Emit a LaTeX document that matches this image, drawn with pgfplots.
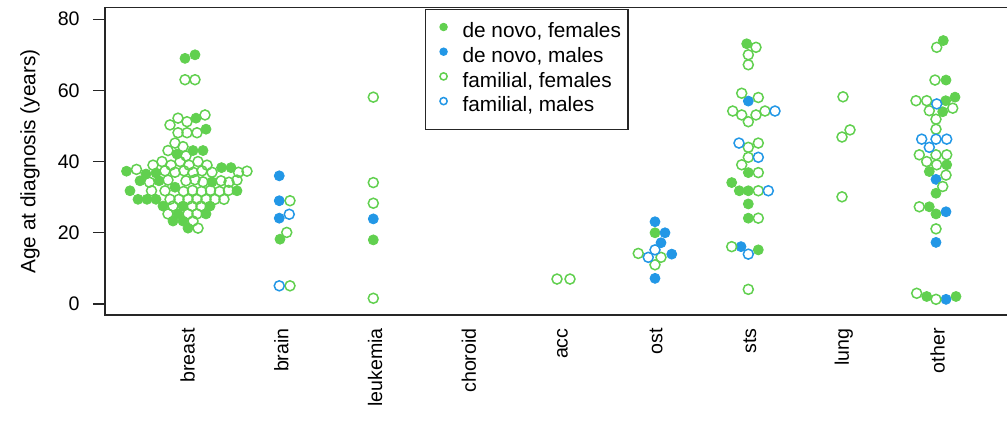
\documentclass[border=0pt]{standalone}
\usepackage{fontspec}
\setmainfont{Liberation Sans}
\usepackage{pgfplots}
\usepackage{pgfplotstable}
\pgfplotsset{compat=1.18}
\definecolor{rgreen}{HTML}{61D04F}
\definecolor{rblue}{HTML}{2297E6}

% c = category index, d = horizontal swarm offset (reference pixels), y = age
\pgfplotstableread{
c d y
1 -2.5 69.0
1 7.5 70.0
1 8.5 52.2
1 18.5 49.1
1 5.5 43.1
1 15.5 43.1
1 -10.5 42.1
1 -61 37.3
1 -41.5 36.5
1 -31.5 36.8
1 34 38.3
1 43.5 38.3
1 -47.5 34.6
1 -28.5 34.6
1 24.5 34.3
1 -12.5 32.8
1 -57.5 31.8
1 49.5 31.8
1 -49.5 29.4
1 -40.5 29.4
1 -31.5 29.4
1 -24.5 27.5
1 -4.5 27.5
1 22.5 27.5
1 -9.5 25.3
1 18.5 25.3
1 -14.5 23.3
1 -4.5 23.3
1 0.5 21.3
2 -1.25 18.2
3 -1.7 18.0
6 -1.25 20.0
7 -3.3 73.1
7 -1.7 36.9
7 -18.3 34.1
7 -10.7 31.8
7 -1.7 31.8
7 -1.7 28.1
7 -1.7 24.1
7 8.3 15.2
9 5.8 74.0
9 8.5 62.9
9 8.2 57.1
9 17.5 58.1
9 5.2 54.0
9 9.2 39.1
9 -8.2 37.2
9 -1.5 31.1
9 -8.2 27.3
9 -1.5 25.3
9 -10.8 2.1
9 18.5 2.1
}\gf

\pgfplotstableread{
c d y
2 -2 36.0
2 -2 29.0
2 -2 24.1
3 -1.7 23.9
6 -1.25 23.1
6 8.75 20.0
6 4.75 17.2
6 15.5 14.0
6 -1.25 7.2
7 -1.7 57.0
7 -9 16.1
9 -1.5 35.0
9 8.5 25.9
9 -1.5 17.3
9 8.5 1.3
}\bf

\pgfplotstableread{
c d y
1 -2.5 63
1 7.5 63
1 17.5 53.1
1 -9.5 52.2
1 -0.5 51.2
1 -17.5 50.3
1 9.5 48.1
1 -0.5 48.1
1 -9.5 48.1
1 -12.5 45.2
1 -4.5 44.2
1 -19.5 43.1
1 -1.5 41.6
1 -34.5 39.0
1 -25.5 40.0
1 -16.5 39.0
1 -7.5 40.0
1 1.5 39.0
1 10.5 40.0
1 19.5 39.0
1 -51 37.8
1 -22.5 37.4
1 -12.5 37.0
1 -3.5 37.4
1 5.5 37.0
1 14.5 37.4
1 24.5 37.0
1 51 37.0
1 59.5 37.3
1 -38 34.2
1 -19.5 34.8
1 -1.5 34.6
1 7.5 34.9
1 15.5 34.3
1 33.5 34.6
1 41.5 34.2
1 49.5 34.8
1 -36 31.8
1 -22.5 31.8
1 -4 31.6
1 5 31.9
1 14 31.6
1 23 31.9
1 32 31.6
1 41 31.9
1 -17.5 29.4
1 -8.5 29.4
1 0.5 29.4
1 9.5 29.4
1 18.5 29.4
1 27.5 29.4
1 36.5 29.4
1 -14.5 27.5
1 4.5 27.5
1 13.5 27.5
1 -19.5 25.3
1 0.5 25.3
1 9.5 25.3
1 5.5 23.3
1 10.5 21.3
2 8.75 29.0
2 5.5 20.1
2 8.75 5.1
3 -1.7 58.1
3 -1.7 34.1
3 -1.7 28.3
3 -1.7 1.6
5 -5.5 7
5 7.5 7
6 -18 14.2
6 4.75 13.1
6 -1.25 11.0
7 6 72.1
7 -1.7 70.0
7 -1.7 67.2
7 -8.3 59.2
7 8.3 58.0
7 -17.3 54.2
7 -8.3 53.1
7 6 53.1
7 15 54.2
7 -1.7 51.2
7 -1.7 44.0
7 8.3 45.2
7 -1.7 41.2
7 -8.3 39.1
7 8.3 36.9
7 8.3 31.8
7 8.3 24.1
7 -18.3 16.1
7 -1.7 4.1
8 -0.75 58.2
8 6.25 48.9
8 -1.75 46.9
8 -1.75 30.1
9 -0.8 72.1
9 -2.5 62.9
9 -21.5 57.1
9 -10.8 57.1
9 -8.2 54.3
9 15.2 55.0
9 -1.5 51.9
9 -1.5 49.1
9 -18.2 41.9
9 -1.5 41.9
9 9.2 41.9
9 -10.8 40.0
9 -0.8 39.1
9 8.5 36.2
9 5.2 33.0
9 -18.2 27.3
9 -1.5 21.1
9 -20.8 3.0
9 -1.5 1.3
}\go

\pgfplotstableread{
c d y
2 8 25.2
2 -2 5.1
6 -8 13.1
6 -1.25 15.2
7 25 54.2
7 -11 45.2
7 8.3 41.2
7 18.3 31.8
7 -1.7 14.0
9 -0.8 56.2
9 -15.8 46.3
9 -1.5 46.3
9 9.2 46.3
9 -8.2 44.0
}\bo

\pgfplotsset{
  rleg/.style={legend image code/.code={%
    \path[draw=none] (0pt,0pt) -- (15pt,0pt);
    \draw[##1, mark size=1.8pt] plot coordinates {(5.5pt,2.7pt)};}},
}

\begin{document}
\begin{tikzpicture}
\begin{axis}[
  scale only axis,
  width=457.5pt, height=153.6pt,
  xmin=0.12, xmax=9.88, ymin=-3.1, ymax=83.2,
  axis line style={line width=0.6pt, black!85},
  xtick={1,...,9},
  xticklabels={breast,brain,leukemia,choroid,acc,ost,sts,lung,other},
  xtick style={draw=none},
  xticklabel style={rotate=90, anchor=east, inner sep=0pt},
  xticklabel shift=0.5pt,
  ytick={0,20,40,60,80},
  ytick pos=left,
  tick align=outside,
  major tick length=6pt,
  ytick style={line width=0.6pt, black!85},
  yticklabel style={anchor=east, inner sep=0pt},
  yticklabel shift=6.5pt,
  /pgf/number format/assume math mode=true,
  tick label style={font=\fontsize{9.8}{12}\selectfont},
  ylabel={Age at diagnosis (years)},
  ylabel style={at={(axis description cs:-0.082,0.5)}, anchor=center, font=\fontsize{10.4}{12}\selectfont},
  legend style={at={(axis description cs:0.3497,1)}, anchor=north west, yshift=-0.5pt,
    draw=black!85, line width=0.6pt, inner xsep=3.5pt, inner ysep=6.6pt,
    row sep=2.55pt, font=\fontsize{10.4}{12}\selectfont,
    nodes={inner sep=0pt, text height=7.6pt, text depth=2.2pt}},
  legend cell align=left,
]
\coordinate (bl) at (rel axis cs:0,0);
\addplot[only marks, mark=*, mark size=2.5pt, mark options={draw=rgreen, fill=rgreen}, rleg]
  table[x expr=\thisrow{c}+\thisrow{d}/93.75, y=y] {\gf};
\addlegendentry{de novo, females}
\addplot[only marks, mark=*, mark size=2.5pt, mark options={draw=rblue, fill=rblue}, rleg]
  table[x expr=\thisrow{c}+\thisrow{d}/93.75, y=y] {\bf};
\addlegendentry{de novo, males}
\addplot[only marks, mark=o, mark size=2.5pt, mark options={draw=rgreen, line width=0.75pt}, rleg]
  table[x expr=\thisrow{c}+\thisrow{d}/93.75, y=y] {\go};
\addlegendentry{familial, females}
\addplot[only marks, mark=o, mark size=2.5pt, mark options={draw=rblue, line width=0.75pt}, rleg]
  table[x expr=\thisrow{c}+\thisrow{d}/93.75, y=y] {\bo};
\addlegendentry{familial, males}
\end{axis}
\pgfresetboundingbox
\path[use as bounding box] ([xshift=-52.5pt,yshift=-54pt]bl) rectangle ([xshift=451pt,yshift=157.5pt]bl);
\end{tikzpicture}
\end{document}
